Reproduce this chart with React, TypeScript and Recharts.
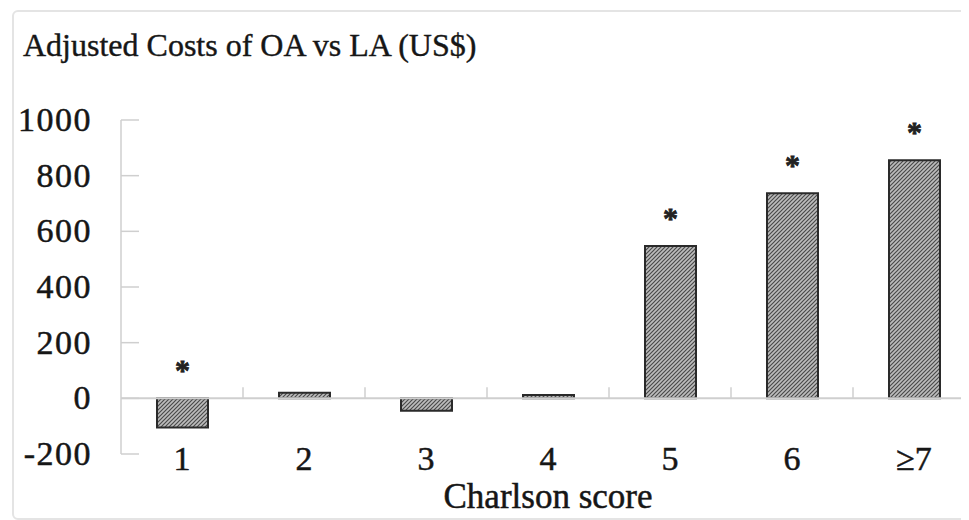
import React from "react"
import {
  BarChart,
  Bar,
  XAxis,
  YAxis,
  ReferenceLine,
  LabelList,
} from "recharts"

const categories = ["1", "2", "3", "4", "5", "6", "≥7"]
const costDiff = [-105, 20, -45, 12, 547, 737, 855]
const significant = [true, false, false, false, true, true, true]
const yTicks = [-200, 0, 200, 400, 600, 800, 1000]

const data = categories.map((name, i) => ({
  name,
  cost: costDiff[i],
  sig: significant[i] ? "*" : "",
}))

const FONT = '"Liberation Serif", "Times New Roman", serif'
const AXIS = "#cfcfcf"
const INK = "#161616"

function YTick(props: any) {
  const { x, y, payload } = props
  return (
    <g>
      <line x1={x} x2={x + 18} y1={y} y2={y} stroke={AXIS} strokeWidth={1.5} />
      <text
        x={x - 29}
        y={y}
        dy={11}
        textAnchor="end"
        fontFamily={FONT}
        fontSize={34}
        letterSpacing={1.5}
        fill={INK}
        stroke={INK}
        strokeWidth={0.5}
      >
        {payload.value}
      </text>
    </g>
  )
}

function XTick(props: any) {
  const { x, y, payload } = props
  return (
    <text
      x={x}
      y={y}
      dy={16}
      textAnchor="middle"
      fontFamily={FONT}
      fontSize={34}
      fill={INK}
      stroke={INK}
      strokeWidth={0.5}
    >
      {payload.value}
    </text>
  )
}

function ZeroLine(props: any) {
  const { x1, x2, y1 } = props
  const step = (x2 - x1) / categories.length
  return (
    <g>
      <line x1={x1} x2={x2} y1={y1} y2={y1} stroke={AXIS} strokeWidth={2} />
      {categories.map((c, i) => (
        <line
          key={c}
          x1={x1 + step * (i + 1)}
          x2={x1 + step * (i + 1)}
          y1={y1}
          y2={y1 - 11}
          stroke={AXIS}
          strokeWidth={1.5}
        />
      ))}
    </g>
  )
}

function Star(props: any) {
  const { x, y, width, height, value } = props
  if (!value) return null
  const top = Math.min(y, y + height)
  return (
    <text
      x={x + width / 2}
      y={top - 18}
      textAnchor="middle"
      fontFamily={FONT}
      fontSize={30}
      fontWeight="bold"
      fill="#222"
      stroke="#222"
      strokeWidth={0.8}
    >
      {value}
    </text>
  )
}

function AxisTitle(props: any) {
  const { viewBox } = props
  return (
    <text
      x={viewBox.x + viewBox.width / 2}
      y={viewBox.y + 54}
      textAnchor="middle"
      fontFamily={FONT}
      fontSize={35}
      fill={INK}
      stroke={INK}
      strokeWidth={0.5}
    >
      Charlson score
    </text>
  )
}

export default function App() {
  return (
    <div style={{ position: "relative", width: 961, height: 512, overflow: "hidden", background: "#fff" }}>
      <div
        style={{
          position: "absolute",
          left: 4,
          top: 2,
          width: 1000,
          height: 506,
          border: "2px solid #e4e4e4",
          borderRadius: 6,
        }}
      />
      <div
        style={{
          position: "absolute",
          left: 15,
          top: 21,
          fontFamily: FONT,
          fontSize: 32,
          lineHeight: "32px",
          color: INK,
          WebkitTextStroke: `0.4px ${INK}`,
          whiteSpace: "nowrap",
        }}
      >
        Adjusted Costs of OA vs LA (US$)
      </div>
      <div style={{ position: "absolute", left: 0, top: 0 }}>
        <BarChart width={980} height={512} data={data} margin={{ top: 112, right: 13, bottom: 6, left: 0 }}>
          <defs>
            <pattern id="hatch" width="4" height="4" patternUnits="userSpaceOnUse">
              <rect width="4" height="4" fill="#bdbdbd" />
              <path d="M-1,1 l2,-2 M0,4 l4,-4 M3,5 l2,-2" stroke="#4a4a4a" strokeWidth={1.2} />
            </pattern>
          </defs>
          <YAxis
            type="number"
            domain={[-200, 1000]}
            ticks={yTicks}
            width={113}
            tickSize={0}
            tickMargin={0}
            tickLine={false}
            axisLine={{ stroke: AXIS, strokeWidth: 1.5 }}
            tick={<YTick />}
            interval={0}
          />
          <XAxis
            dataKey="name"
            height={60}
            tickSize={0}
            tickMargin={0}
            tickLine={false}
            axisLine={false}
            tick={<XTick />}
            interval={0}
            label={<AxisTitle />}
          />
          <ReferenceLine y={0} shape={<ZeroLine />} />
          <Bar
            dataKey="cost"
            fill="url(#hatch)"
            stroke="#2a2a2a"
            strokeWidth={2}
            barSize={51}
            isAnimationActive={false}
          >
            <LabelList dataKey="sig" content={<Star />} />
          </Bar>
        </BarChart>
      </div>
    </div>
  )
}
